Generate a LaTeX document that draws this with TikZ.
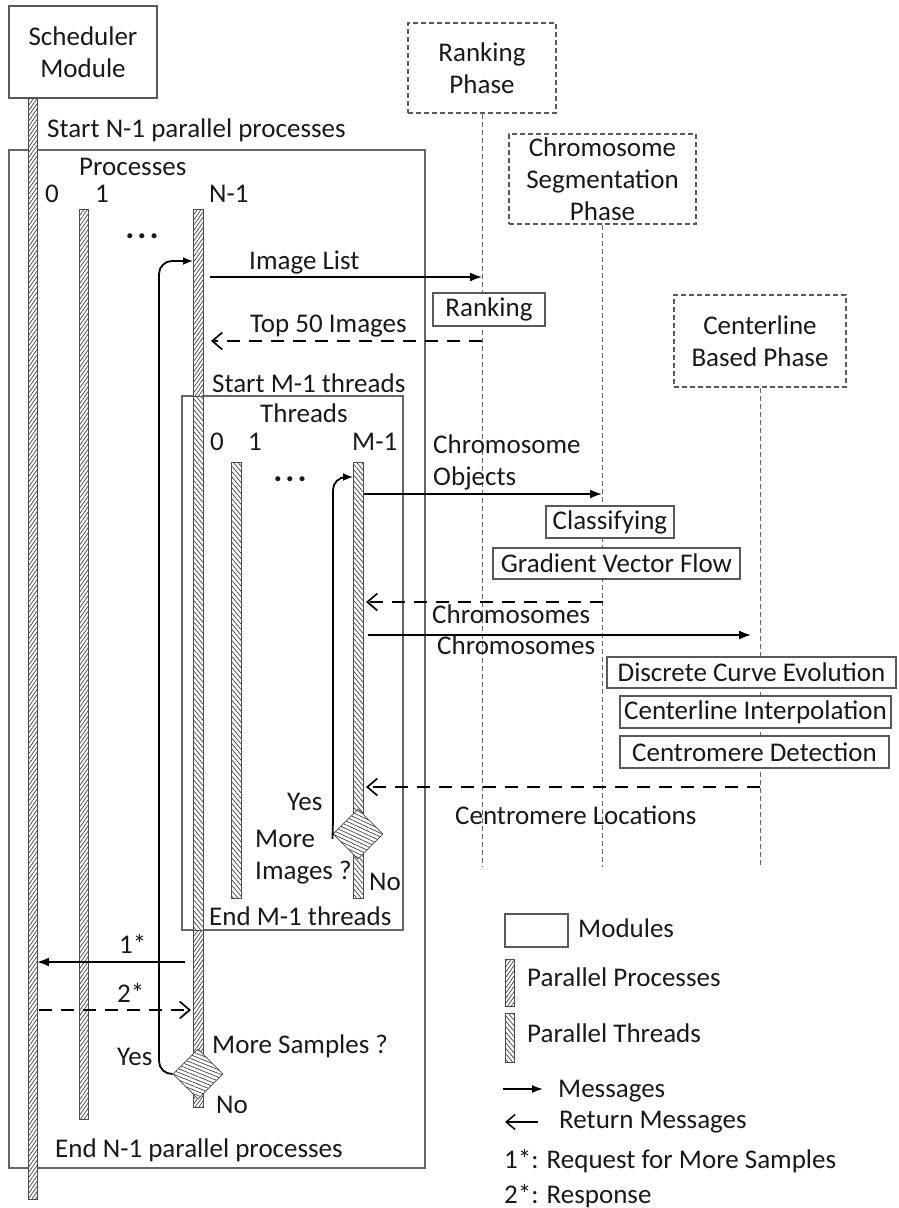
\documentclass[tikz,border=0pt]{standalone}
\usepackage{fontspec}
\setmainfont{Carlito}
\usetikzlibrary{arrows.meta,patterns.meta,shapes.geometric}
\begin{document}
\begin{tikzpicture}[x=1pt,y=-1pt,
  txt/.style={font=\fontsize{27}{32}\selectfont, text=black!90, inner sep=0pt},
  lbl/.style={txt, anchor=base west},
  dots/.style={font=\fontsize{34}{34}\selectfont\bfseries, text=black!90, inner sep=0pt, anchor=base},
  modbox/.style={draw=black!65, line width=1.3pt, fill=white, txt, align=center},
  phasebox/.style={draw=black!65, line width=1.3pt, dash pattern=on 5pt off 3pt, fill=white, txt, align=center},
  lifeline/.style={draw=black!60, line width=0.9pt, dash pattern=on 5pt off 3pt},
  frame/.style={draw=black!60, line width=1.4pt},
  procbar/.style={draw=black!70, line width=0.8pt, preaction={fill=white}, pattern={Lines[angle=55,distance=3pt,line width=0.7pt]}, pattern color=black!75},
  thrbar/.style={draw=black!70, line width=0.8pt, preaction={fill=white}, pattern={Lines[angle=-50,distance=3.5pt,line width=0.7pt]}, pattern color=black!75},
  decis/.style={diamond, draw=black!70, line width=0.8pt, minimum width=50pt, minimum height=50pt, inner sep=0pt, preaction={fill=white}, pattern color=black!75},
  msg/.style={draw=black, line width=1.8pt, -{Latex[length=12pt,width=9pt]}},
  ret/.style={draw=black, line width=1.8pt, dash pattern=on 13pt off 9pt, -{Straight Barb[length=10pt,width=17pt,line width=1.7pt]}},
  loopline/.style={draw=black, line width=1.8pt, rounded corners=13pt, -{Latex[length=10pt,width=8pt]}},
]
\useasboundingbox (0,0) rectangle (898,1208);

% ---------- phase boxes and lifelines ----------
\node[phasebox, minimum width=148pt, minimum height=90pt] (rankph) at (482,68) {Ranking\\Phase};
\node[phasebox, minimum width=187pt, minimum height=90pt] (segph) at (602.5,179) {Chromosome\\Segmentation\\Phase};
\node[phasebox, minimum width=172pt, minimum height=92pt] (cenph) at (760,341) {Centerline\\Based Phase};
\coordinate (rankend) at (482,867);
\coordinate (segend) at (602.5,867);
\coordinate (cenend) at (760,867);
\draw[lifeline] (rankph.south) -- (rankend);
\draw[lifeline] (segph.south) -- (segend);
\draw[lifeline] (cenph.south) -- (cenend);

% ---------- activity boxes ----------
\node[modbox, minimum width=112pt, minimum height=33pt] (ranking) at (489,309.5) {Ranking};
\node[modbox, minimum width=128pt, minimum height=32pt] (classif) at (610,522) {Classifying};
\node[modbox, minimum width=247pt, minimum height=31pt] (gvf) at (616.5,563.5) {Gradient Vector Flow};
\node[modbox, minimum width=289pt, minimum height=31pt] (dce) at (751.5,672.5) {Discrete Curve Evolution};
\node[modbox, minimum width=271pt, minimum height=32pt] (cint) at (755.5,712) {Centerline Interpolation};
\node[modbox, minimum width=269pt, minimum height=32pt] (cdet) at (754.5,752) {Centromere Detection};

% ---------- scheduler ----------
\node[modbox, minimum width=148pt, minimum height=92pt] (sched) at (83,52) {Scheduler\\Module};

% ---------- frames ----------
\draw[frame] (9,150) rectangle (425,1168);
\draw[frame] (182,396) rectangle (403,930);

% ---------- bars ----------
\path[procbar] (28,98) rectangle (37,1199);
\path[procbar] (79,209) rectangle (88,1119);
\path[procbar] (193,209) rectangle (203,396);
\path[thrbar] (193,396) rectangle (203,930);
\path[procbar] (193,930) rectangle (203,1107);
\path[thrbar] (231,462) rectangle (241,898);
\path[thrbar] (353,462) rectangle (363,898);
\node[decis, pattern={Lines[angle=-22,distance=3.5pt,line width=0.7pt]}] (dP) at (198,1074) {};
\node[decis, pattern={Lines[angle=-25,distance=3.5pt,line width=0.7pt]}] (dT) at (358,834) {};

% ---------- texts ----------
\node[lbl] (t1) at (47,137) {Start N-1 parallel processes};
\node[lbl] (t2) at (79,175) {Processes};
\node[lbl] (t3) at (45,202) {0};
\node[lbl] (t4) at (95,202) {1};
\node[lbl] (t5) at (209,202) {N-1};
\node[dots] (t6) at (142,238) {.\kern3pt.\kern3pt.};
\node[lbl] (t7) at (249,269) {Image List};
\node[lbl] (t8) at (250,332) {Top 50 Images};
\node[lbl] (t9) at (212,392) {Start M-1 threads};
\node[lbl] (t10) at (260,422) {Threads};
\node[lbl] (t11) at (210,450) {0};
\node[lbl] (t12) at (248,450) {1};
\node[lbl] (t13) at (352,450) {M-1};
\node[dots] (t14) at (290,481) {.\kern3pt.\kern3pt.};
\node[lbl] (t15) at (433,453) {Chromosome};
\node[lbl] (t16) at (433,485) {Objects};
\node[lbl] (t17) at (432,623) {Chromosomes};
\node[lbl] (t18) at (437,654) {Chromosomes};
\node[lbl] (t19) at (455,824) {Centromere Locations};
\node[lbl] (t20) at (287,810) {Yes};
\node[lbl] (t21) at (255,847) {More};
\node[lbl] (t22) at (255,879) {Images ?};
\node[lbl] (t23) at (369,890) {No};
\node[lbl] (t24) at (209,925) {End M-1 threads};
\node[lbl] (t25) at (119,953) {1*};
\node[lbl] (t26) at (117,1002) {2*};
\node[lbl] (t27) at (212,1053) {More Samples ?};
\node[lbl] (t28) at (117,1065) {Yes};
\node[lbl] (t29) at (216,1113) {No};
\node[lbl] (t30) at (55,1157) {End N-1 parallel processes};

% ---------- messages ----------
\coordinate (il0) at (210,277);  \coordinate (il1) at (482,277);
\coordinate (tf0) at (482,341);  \coordinate (tf1) at (211,341);
\coordinate (co0) at (364,494);  \coordinate (co1) at (602,494);
\coordinate (ch0) at (602.5,602); \coordinate (ch1) at (366,602);
\coordinate (cm0) at (368,635);  \coordinate (cm1) at (751,635);
\coordinate (cl0) at (760,787);  \coordinate (cl1) at (366,787);
\coordinate (r10) at (185,962);  \coordinate (r11) at (37,962);
\coordinate (r20) at (39,1010);  \coordinate (r21) at (191,1010);
\draw[msg] (il0) -- (il1);
\draw[ret] (tf0) -- (tf1);
\draw[msg] (co0) -- (co1);
\draw[ret] (ch0) -- (ch1);
\draw[msg] (cm0) -- (cm1);
\draw[ret] (cl0) -- (cl1);
\draw[msg] (r10) -- (r11);
\draw[ret] (r20) -- (r21);

% ---------- loops ----------
\coordinate (lpP) at (193,261);
\coordinate (lpT) at (353,477);
\draw[loopline] (dP.west) -- (159,1074) -- (159,261) -- (lpP);
\draw[loopline] (dT.west) -- (333,826) -- (333,477) -- (lpT);

% ---------- legend ----------
\node[modbox, minimum width=63pt, minimum height=33pt] (lgmod) at (536.5,930.5) {};
\node[lbl] (lgmodt) at (578,937) {Modules};
\path[procbar] (505,959) rectangle (514,1006);
\node[lbl] (lgpp) at (527,986) {Parallel Processes};
\path[thrbar] (505,1013) rectangle (514,1062);
\node[lbl] (lgpt) at (527,1042) {Parallel Threads};
\coordinate (lm0) at (503,1089); \coordinate (lm1) at (543,1089);
\draw[draw=black, line width=1.5pt, -{Latex[length=11pt,width=8pt]}] (lm0) -- (lm1);
\node[lbl] (lgm) at (558,1097) {Messages};
\coordinate (lr0) at (538,1122); \coordinate (lr1) at (505,1122);
\draw[draw=black, line width=1.5pt, -{Straight Barb[length=9pt,width=15pt,line width=1.5pt]}] (lr0) -- (lr1);
\node[lbl] (lgr) at (559,1128) {Return Messages};
\node[lbl] (lg1) at (504,1168) {1*: Request for More Samples};
\node[lbl] (lg2) at (504,1203) {2*: Response};
\end{tikzpicture}
\end{document}
